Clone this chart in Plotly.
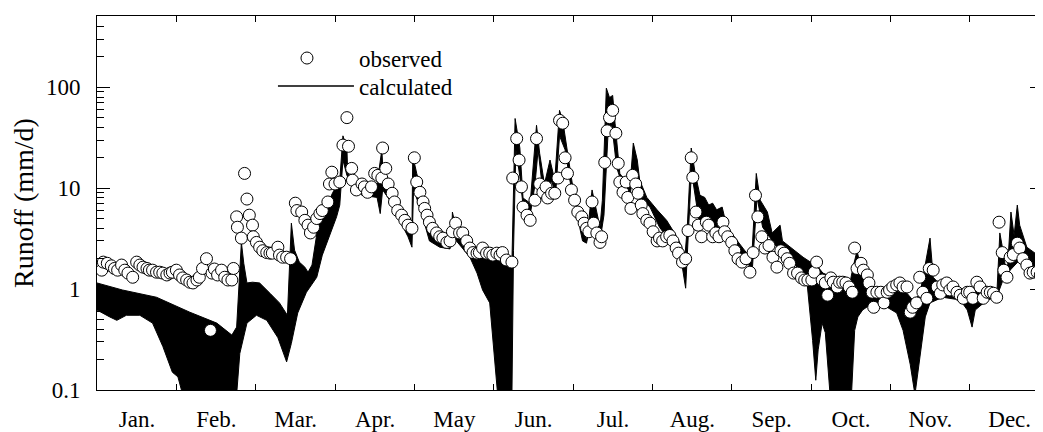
import plotly.graph_objects as go

# ---------------- data ----------------
months = ["Jan.", "Feb.", "Mar.", "Apr.", "May", "Jun.", "Jul.", "Aug.", "Sep.", "Oct.", "Nov.", "Dec."]

# observed runoff (time in months since 1 Jan, value in mm/d)
obs_t = [0.06, 0.08, 0.13, 0.18, 0.22, 0.26, 0.31, 0.35, 0.39, 0.45, 0.50, 0.54, 0.58, 0.63, 0.66, 0.70,
         0.75, 0.79, 0.83, 0.88, 0.92, 0.95, 1.00, 1.04, 1.08, 1.13, 1.17, 1.21, 1.26, 1.29, 1.33, 1.38,
         1.43, 1.45, 1.48, 1.52, 1.57, 1.61, 1.65, 1.70, 1.72, 1.76, 1.77, 1.82, 1.86, 1.89, 1.92, 1.96,
         1.97, 2.01, 2.05, 2.09, 2.14, 2.18, 2.21, 2.28, 2.30, 2.34, 2.39, 2.44, 2.50, 2.52, 2.58, 2.62,
         2.66, 2.69, 2.73, 2.77, 2.81, 2.84, 2.91, 2.93,
         2.96, 3.00, 3.06, 3.10, 3.15, 3.17, 3.21, 3.22, 3.27, 3.34, 3.37, 3.41, 3.46, 3.50, 3.54, 3.59,
         3.60, 3.64, 3.67, 3.72, 3.75, 3.79, 3.84, 3.88, 3.92, 3.97, 4.00, 4.03, 4.07, 4.11, 4.13, 4.16,
         4.19, 4.23, 4.28, 4.32, 4.36, 4.41, 4.45, 4.48, 4.52, 4.57, 4.61, 4.66, 4.70, 4.74, 4.79, 4.82,
         4.86, 4.91, 4.95, 4.99, 5.04, 5.08, 5.11, 5.16, 5.23, 5.24, 5.29, 5.32, 5.35, 5.37, 5.42, 5.46,
         5.52, 5.54, 5.58, 5.62, 5.66, 5.68, 5.73, 5.77, 5.81, 5.83, 5.87, 5.90, 5.93, 5.98, 6.02, 6.06,
         6.11, 6.14, 6.17, 6.20, 6.24, 6.26, 6.30, 6.34, 6.36, 6.40, 6.43, 6.46, 6.50, 6.54, 6.57, 6.59,
         6.63, 6.67, 6.69, 6.73, 6.75, 6.79, 6.82, 6.86, 6.88, 6.93, 6.97, 7.01, 7.06, 7.09, 7.13, 7.18,
         7.22, 7.26, 7.30, 7.33, 7.38, 7.42, 7.45, 7.49, 7.51, 7.55, 7.58, 7.62, 7.68, 7.71, 7.76, 7.80,
         7.84, 7.89, 7.91, 7.95, 8.00, 8.04, 8.08, 8.13, 8.18, 8.23, 8.27, 8.30, 8.33, 8.38, 8.42, 8.47,
         8.52, 8.57, 8.62, 8.66, 8.70, 8.73, 8.78, 8.83, 8.88, 8.92, 8.96, 9.01, 9.04, 9.07,
         9.14, 9.18, 9.21, 9.25, 9.28, 9.33, 9.36, 9.40, 9.44, 9.48, 9.52, 9.55, 9.58, 9.63, 9.66, 9.71,
         9.73, 9.77, 9.79, 9.83, 9.88, 9.92, 9.96, 9.99, 10.03, 10.08, 10.12, 10.16, 10.21, 10.25, 10.28,
         10.33, 10.37, 10.41, 10.46, 10.49, 10.54, 10.59, 10.63, 10.66, 10.71, 10.75, 10.79, 10.84, 10.88,
         10.92, 10.97, 11.00, 11.04, 11.09, 11.13, 11.17, 11.22, 11.26, 11.30, 11.34, 11.37, 11.41, 11.43,
         11.47, 11.51, 11.55, 11.60, 11.63, 11.67, 11.72, 11.76, 11.80, 11.85, 11.89, 11.92]
obs_v = [1.54, 1.85, 1.8, 1.7, 1.6, 1.54, 1.73, 1.54, 1.44, 1.31, 1.85, 1.73, 1.65, 1.6, 1.54, 1.54,
         1.47, 1.47, 1.44, 1.38, 1.44, 1.47, 1.54, 1.38, 1.29, 1.23, 1.17, 1.15, 1.23, 1.31, 1.6, 2.0,
         0.39, 1.44, 1.58, 1.38, 1.54, 1.31, 1.23, 1.23, 1.6, 5.2, 4.1, 3.2, 14, 7.8, 5.4, 4.3,
         3.3, 2.9, 2.6, 2.4, 2.3, 2.27, 2.27, 2.6, 2.17, 2.07, 2.07, 2.0, 7.1, 6.0, 5.8, 4.8,
         4.3, 3.6, 4.1, 5.0, 5.6, 6.0, 7.3, 11,
         14.4, 11, 11.5, 26.7, 50, 26, 15.7, 12, 9.6, 11, 10.3, 9.1, 10.3, 14, 13.4, 12.6,
         25, 15.7, 11, 8.9, 7.3, 6.0, 5.4, 4.8, 4.3, 4.0, 20, 11.5, 9.1, 7.3, 6.3, 5.4,
         4.6, 4.0, 3.6, 3.3, 3.2, 2.9, 3.0, 3.7, 4.5, 3.6, 3.6, 3.0, 2.55, 2.3, 2.27, 2.3,
         2.55, 2.27, 2.27, 2.17, 2.27, 2.17, 2.3, 1.94, 1.85, 12.6, 31, 19, 10.3, 6.5, 5.4, 4.8,
         7.6, 31, 11, 9.1, 10.3, 8.0, 8.9, 8.9, 12.6, 47, 44, 20, 14, 9.6, 7.6, 5.8,
         5.2, 4.5, 4.0, 3.7, 7.3, 4.5, 3.6, 2.9, 3.3, 18, 37, 50, 59, 35, 17.6, 11.5,
         9.1, 11.5, 8.1, 6.3, 13.4, 11, 8.9, 6.8, 5.6, 4.8, 4.5, 3.7, 3.0, 3.2, 3.0, 3.3,
         3.4, 3.0, 2.55, 2.27, 1.85, 2.0, 3.8, 20, 12.8, 5.8, 4.3, 3.3, 4.6, 4.3, 3.3, 3.6,
         3.3, 4.6, 3.7, 3.3, 2.9, 2.4, 2.0, 1.85, 2.0, 1.47, 2.3, 8.5, 5.2, 3.3, 2.55, 2.7,
         2.07, 1.65, 2.4, 2.27, 2.0, 1.8, 1.44, 1.44, 1.29, 1.23, 1.23, 1.23, 1.47, 1.85,
         1.23, 1.15, 0.87, 1.29, 1.17, 1.05, 1.17, 1.17, 1.15, 1.05, 0.93, 2.55, 1.6, 1.8, 1.54, 1.38,
         1.15, 0.93, 0.66, 0.93, 0.93, 0.73, 0.93, 0.98, 1.05, 1.1, 1.15, 1.05, 1.05, 0.59, 0.66,
         0.73, 1.31, 0.93, 0.81, 1.6, 1.54, 1.05, 0.91, 1.1, 1.15, 0.98, 1.05, 0.93, 0.87,
         0.81, 0.93, 0.93, 0.81, 1.17, 1.05, 0.81, 0.93, 0.93, 0.91, 0.83, 4.6, 2.3, 1.54,
         1.31, 2.07, 2.2, 2.85, 2.55, 2.0, 1.73, 1.44, 1.47, 1.47, 1.38, 1.29]

# calculated runoff: upper and lower envelope of the simulated band
calc_up_t = [0.00, 0.32, 0.75, 1.17, 1.51, 1.70, 1.76, 1.82, 1.85, 1.89, 1.96, 2.05, 2.18, 2.30, 2.40,
             2.45, 2.49, 2.55, 2.62, 2.66, 2.71, 2.81, 2.89, 2.97,
             3.06, 3.10, 3.15, 3.16, 3.21, 3.34, 3.53, 3.59, 3.61, 3.63, 3.90, 3.97, 3.98, 4.03, 4.19,
             4.32, 4.47, 4.48, 4.53, 4.70, 4.91, 5.20, 5.23, 5.27, 5.33, 5.37, 5.46, 5.49, 5.54, 5.58,
             5.64, 5.71, 5.77, 5.83, 5.87, 5.96,
             6.00, 6.09, 6.17, 6.24, 6.34, 6.37, 6.42, 6.46, 6.50, 6.53, 6.59, 6.65, 6.72, 6.76, 6.81,
             6.84, 6.93, 7.06, 7.18, 7.26, 7.35, 7.41, 7.44, 7.49, 7.54, 7.60, 7.66, 7.71, 7.76, 7.81,
             7.88, 7.94, 8.19, 8.26, 8.31, 8.36, 8.45, 8.51, 8.61, 8.64, 8.90, 9.09,
             9.15, 9.36, 9.49, 9.53, 9.58, 9.62, 9.70, 9.78, 10.03, 10.21, 10.28, 10.37, 10.50, 10.54,
             10.63, 10.79, 10.97, 11.22, 11.34, 11.38, 11.42, 11.47, 11.52, 11.56, 11.60, 11.63, 11.72,
             11.92]
calc_up_v = [1.15, 0.98, 0.83, 0.59, 0.46, 0.35, 0.42, 2.9, 1.8, 1.15, 1.17, 1.15, 0.91, 0.73, 0.55,
             4.5, 2.43, 1.85, 1.65, 1.47, 1.73, 5.6, 6.5, 9.0,
             12, 33, 25, 14, 12.8, 11, 11, 24, 12.6, 13.4, 4.6, 4.1, 21, 14, 4.6,
             3.6, 3.3, 5.8, 3.8, 2.6, 2.4, 1.8, 1.85, 49, 25, 8, 7.1, 14, 42, 22,
             11, 19, 12, 59, 47, 16,
             10, 5.4, 3.0, 9.6, 4.1, 7.6, 98, 79, 83, 44, 14, 12, 11, 28, 19,
             12, 8.1, 6.1, 4.8, 3.8, 2.85, 2.07, 4.1, 25, 14, 8.5, 8.1, 6.8, 7.1, 6.1,
             6.5, 4.1, 2.27, 2.6, 14, 7.6, 5.8, 3.6, 4.3, 3.0, 2.07, 1.65,
             1.44, 1.23, 1.15, 1.65, 2.4, 1.73, 1.15, 0.91, 0.98, 0.91, 0.78, 0.87, 3.2, 1.31,
             1.1, 1.05, 0.98, 0.98, 0.83, 3.6, 2.4, 1.31, 5.8, 3.4, 6.8, 4.3, 2.6,
             2.0]
calc_lo_t = [0.00, 0.16, 0.25, 0.37, 0.54, 0.70, 0.83, 0.95, 1.02, 1.08, 1.76, 1.80, 1.89, 2.01, 2.14,
             2.28, 2.39, 2.45, 2.53, 2.64, 2.77, 2.84, 3.02,
             3.06, 3.10, 3.15, 3.21, 3.34, 3.53, 3.57, 3.60, 3.69, 3.92, 3.97, 3.99, 4.07, 4.19, 4.32,
             4.45, 4.48, 4.53, 4.70, 4.79, 4.86, 4.95, 4.99, 5.05, 5.23, 5.25, 5.28, 5.33, 5.37, 5.46,
             5.52, 5.56, 5.61, 5.68, 5.73, 5.78, 5.83, 5.90, 5.96,
             6.02, 6.12, 6.17, 6.24, 6.34, 6.39, 6.44, 6.49, 6.55, 6.63, 6.72, 6.76, 6.81, 6.84, 6.97,
             7.09, 7.22, 7.35, 7.42, 7.45, 7.49, 7.51, 7.60, 7.76, 7.94, 8.14, 8.26, 8.32, 8.39, 8.57,
             8.73, 8.90, 8.95, 8.98, 9.02, 9.06, 9.09, 9.14, 9.18, 9.24, 9.51, 9.55, 9.59, 9.65, 9.78,
             9.96, 10.08, 10.16, 10.25, 10.31, 10.37, 10.44, 10.50, 10.66, 10.88, 10.97, 11.03, 11.07,
             11.22, 11.34, 11.42, 11.51, 11.63, 11.80, 11.92]
calc_lo_v = [0.62, 0.53, 0.49, 0.55, 0.55, 0.46, 0.27, 0.15, 0.135, 0.09, 0.09, 0.23, 0.46, 0.55, 0.49,
             0.33, 0.19, 0.29, 0.58, 0.93, 1.31, 2.17, 5.2,
             6.8, 19, 13.4, 10.7, 8.5, 8.1, 5.6, 9.6, 7.6, 3.3, 2.6, 9.6, 6.5, 3.0, 2.6,
             2.5, 4.3, 3.0, 2.07, 1.44, 0.98, 0.73, 0.31, 0.09, 0.09, 2.4, 24, 13, 6.8, 5.4,
             10.7, 24, 10.7, 7.6, 12, 8.5, 33, 24, 12,
             6.8, 3.0, 2.85, 5.4, 3.0, 5.4, 33, 42, 16, 10.3, 8.5, 15, 12, 8.1, 6.5,
             4.1, 3.0, 2.27, 1.02, 3.0, 13.4, 12, 4.1, 4.1, 3.0, 2.07, 1.55, 8.1, 4.1, 2.6,
             1.94, 1.44, 1.15, 0.66, 0.31, 0.125, 0.25, 0.46, 0.37, 0.09, 0.09, 0.39, 0.53, 0.62, 0.73,
             0.66, 0.58, 0.39, 0.18, 0.09, 0.21, 0.53, 0.73, 0.83, 0.78, 0.62, 0.42, 0.62,
             0.78, 0.83, 1.23, 1.54, 1.94, 1.65, 1.54]

y_ticks = [0.1, 1, 10, 100]
y_ticktext = ["0.1", "1", "10", "100"]
y_minor = [0.2, 0.3, 0.4, 0.5, 0.6, 0.7, 0.8, 0.9, 2, 3, 4, 5, 6, 7, 8, 9,
           20, 30, 40, 50, 60, 70, 80, 90, 200, 300, 400, 500]

# ---------------- figure ----------------
band_x = calc_up_t + calc_lo_t[::-1]
band_y = calc_up_v + calc_lo_v[::-1]

fig = go.Figure()
fig.add_trace(go.Scatter(x=band_x, y=band_y, mode="lines", fill="toself",
                         fillcolor="black", line=dict(color="black", width=1),
                         name="calculated", showlegend=False, hoverinfo="skip"))
fig.add_trace(go.Scatter(x=obs_t, y=obs_v, mode="markers", name="observed", legend="legend",
                         marker=dict(symbol="circle", size=12, color="white",
                                     line=dict(color="black", width=1))))
fig.add_trace(go.Scatter(x=[None], y=[None], mode="lines", name="calculated", legend="legend2",
                         line=dict(color="black", width=1.5)))

legend_style = dict(xanchor="left", yanchor="top", bgcolor="rgba(0,0,0,0)",
                    font=dict(size=23))

# the page body has an 8 px default margin, so the figure is sized to end at the window edge
fig.update_layout(
    width=1035, height=424,
    margin=dict(l=89, r=0, t=8, b=42),
    paper_bgcolor="white", plot_bgcolor="white",
    font=dict(family="Liberation Serif", size=23, color="black"),
    legend=dict(x=0.167, y=0.945, itemwidth=94, **legend_style),
    legend2=dict(x=0.186, y=0.87, itemwidth=76, **legend_style),
    xaxis=dict(range=[0, 11.924], tickmode="array", tickvals=list(range(12)), ticktext=months,
               ticks="inside", ticklen=6, tickcolor="black", showline=True, linecolor="black",
               linewidth=1, mirror="allticks", showgrid=False, zeroline=False,
               ticklabelshift=40, ticklabelstandoff=8, automargin=False),
    yaxis=dict(type="log", range=[-1, 2.706], tickmode="array", tickvals=y_ticks,
               ticktext=y_ticktext, ticks="inside", ticklen=13, tickcolor="black",
               showline=True, linecolor="black", linewidth=1, mirror="allticks",
               showgrid=False, zeroline=False, ticklabelstandoff=11, automargin=False,
               minor=dict(tickmode="array", tickvals=y_minor, ticks="inside", ticklen=7,
                          tickcolor="black", showgrid=False),
               title=dict(text="Runoff (mm/d)", standoff=19)),
)

fig.write_html("out.html")
